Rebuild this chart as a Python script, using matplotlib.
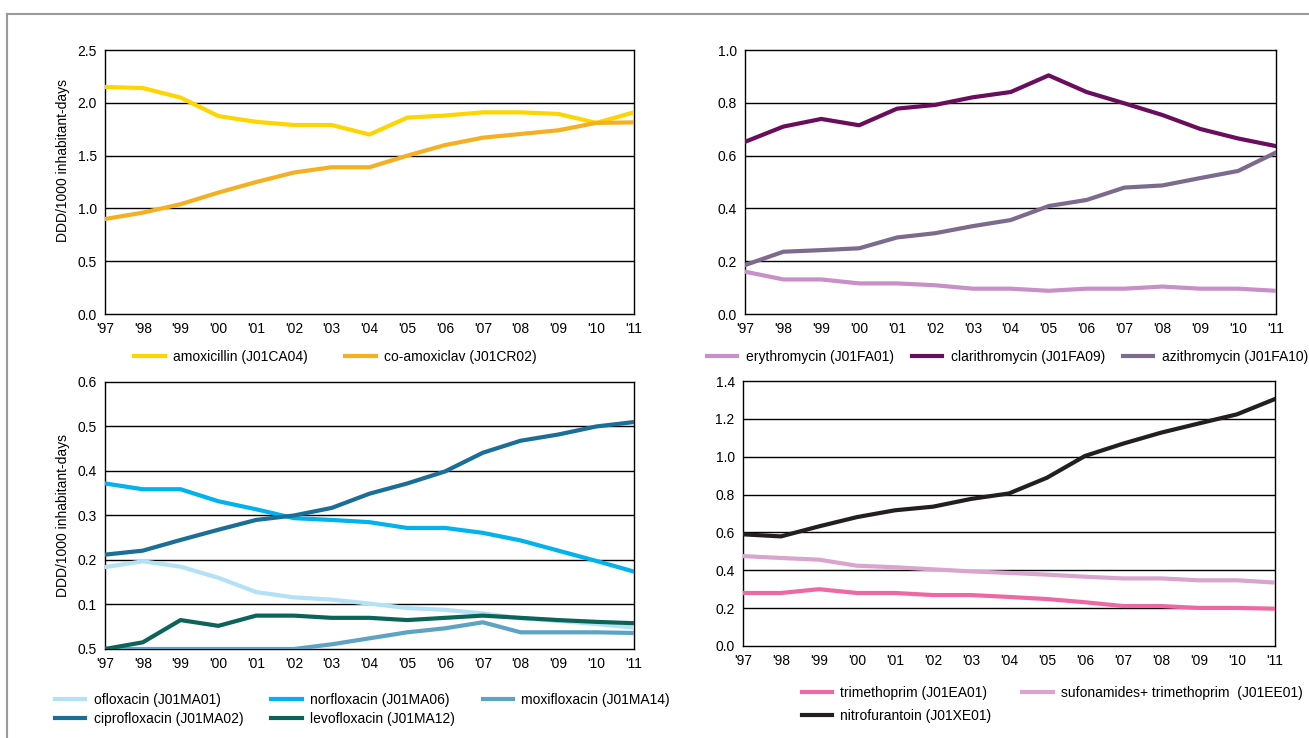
import matplotlib
matplotlib.use('Agg')
import matplotlib.pyplot as plt
from matplotlib.lines import Line2D
from matplotlib import font_manager

# Narrow sans like the original, fall back to Liberation Sans
names = {f.name for f in font_manager.fontManager.ttflist}
family = 'Liberation Sans Narrow' if 'Liberation Sans Narrow' in names else 'Liberation Sans'
plt.rcParams['font.family'] = [family, 'DejaVu Sans']
plt.rcParams['font.size'] = 10

years = ["'97", "'98", "'99", "'00", "'01", "'02", "'03", "'04", "'05", "'06",
         "'07", "'08", "'09", "'10", "'11"]

# Penicillins
amoxicillin = [2.15, 2.14, 2.05, 1.875, 1.82, 1.79, 1.79, 1.70, 1.86, 1.88, 1.91, 1.91, 1.895, 1.81, 1.91]
co_amoxiclav = [0.90, 0.96, 1.04, 1.15, 1.25, 1.34, 1.39, 1.39, 1.50, 1.60, 1.67, 1.705, 1.74, 1.81, 1.815]

# Macrolides
erythromycin = [0.16, 0.131, 0.131, 0.116, 0.116, 0.109, 0.096, 0.096, 0.088, 0.096, 0.096, 0.104, 0.096, 0.096, 0.088]
clarithromycin = [0.653, 0.71, 0.739, 0.715, 0.778, 0.792, 0.821, 0.841, 0.904, 0.841, 0.798, 0.754, 0.701, 0.665, 0.636]
azithromycin = [0.186, 0.236, 0.242, 0.249, 0.29, 0.306, 0.333, 0.356, 0.409, 0.432, 0.479, 0.487, 0.515, 0.542, 0.612]

# Quinolones
ofloxacin = [0.184, 0.197, 0.185, 0.160, 0.128, 0.116, 0.111, 0.102, 0.092, 0.088, 0.080, 0.069, 0.063, 0.056, 0.048]
norfloxacin = [0.372, 0.359, 0.359, 0.332, 0.314, 0.294, 0.290, 0.285, 0.272, 0.272, 0.261, 0.244, 0.221, 0.198, 0.174]
ciprofloxacin = [0.212, 0.221, 0.245, 0.268, 0.290, 0.300, 0.317, 0.349, 0.372, 0.399, 0.441, 0.468, 0.482, 0.500, 0.510]
moxifloxacin = [0.0, 0.0, 0.0, 0.0, 0.0, 0.0, 0.0105, 0.024, 0.0375, 0.0465, 0.060, 0.0375, 0.0375, 0.0375, 0.036]
levofloxacin = [0.0, 0.015, 0.065, 0.052, 0.075, 0.075, 0.070, 0.070, 0.065, 0.070, 0.075, 0.070, 0.065, 0.061, 0.058]

# Urinary antibacterials
trimethoprim = [0.28, 0.28, 0.30, 0.28, 0.28, 0.269, 0.269, 0.259, 0.248, 0.231, 0.211, 0.211, 0.201, 0.201, 0.197]
sulfa_trimethoprim = [0.475, 0.465, 0.456, 0.424, 0.416, 0.405, 0.394, 0.386, 0.377, 0.366, 0.357, 0.357, 0.347, 0.347, 0.335]
nitrofurantoin = [0.59, 0.579, 0.632, 0.681, 0.717, 0.736, 0.777, 0.806, 0.889, 1.004, 1.069, 1.127, 1.176, 1.224, 1.305]

ylabel = 'DDD/1000 inhabitant-days'

fig = plt.figure(figsize=(13.09, 7.38), dpi=100)

ax1 = fig.add_axes([0.0802, 0.5745, 0.4041, 0.3577])
ax2 = fig.add_axes([0.5695, 0.5745, 0.4053, 0.3577])
ax3 = fig.add_axes([0.0802, 0.1206, 0.4041, 0.3618])
ax4 = fig.add_axes([0.5676, 0.1247, 0.4064, 0.3590])

x = list(range(len(years)))
lw = 3


def style(ax, ymax, step, labels=None):
    ticks = [round(i * step, 2) for i in range(int(round(ymax / step)) + 1)]
    ax.set_xlim(0, len(years) - 1)
    ax.set_ylim(0, ymax)
    ax.set_yticks(ticks)
    if labels is None:
        labels = ['%.1f' % t for t in ticks]
    ax.set_yticklabels(labels)
    ax.set_xticks(x)
    ax.set_xticklabels(years)
    ax.tick_params(length=0, pad=6, labelsize=10)
    for t in ticks[1:-1]:
        ax.axhline(t, color='black', lw=1, zorder=1)
    for s in ax.spines.values():
        s.set_linewidth(1)
        s.set_color('black')


def legend(ax, handles, labels, ncol, y, x0, colspace, rowspace=0.37):
    ax.legend(handles, labels, ncol=ncol, loc='upper left', bbox_to_anchor=(x0, y),
              frameon=False, handlelength=2.2, handletextpad=0.6,
              columnspacing=colspace, labelspacing=rowspace, borderpad=0, borderaxespad=0,
              fontsize=10)


# top left
h1, = ax1.plot(x, amoxicillin, color='#FFD500', lw=lw, zorder=3)
h2, = ax1.plot(x, co_amoxiclav, color='#F5B021', lw=lw, zorder=3)
style(ax1, 2.5, 0.5)
ax1.set_ylabel(ylabel)
ax1.yaxis.set_label_coords(-0.066, 0.583)
legend(ax1, [h1, h2], ['amoxicillin (J01CA04)', 'co-amoxiclav (J01CR02)'], 2, -0.135, 0.055, 2.7)

# top right
h1, = ax2.plot(x, erythromycin, color='#C98FC7', lw=lw, zorder=3)
h2, = ax2.plot(x, clarithromycin, color='#6A0D5C', lw=lw, zorder=3)
h3, = ax2.plot(x, azithromycin, color='#7C6B8C', lw=lw, zorder=3)
style(ax2, 1.0, 0.2)
legend(ax2, [h1, h2, h3],
       ['erythromycin (J01FA01)', 'clarithromycin (J01FA09)', 'azithromycin (J01FA10)'],
       3, -0.135, -0.073, 1.3)

# bottom left (original axis prints 0.5 at the base)
h1, = ax3.plot(x, ofloxacin, color='#B3E1F6', lw=lw, zorder=3)
h2, = ax3.plot(x, norfloxacin, color='#00B2EE', lw=lw, zorder=3)
h3, = ax3.plot(x, moxifloxacin, color='#5DA3C4', lw=lw, zorder=3)
h4, = ax3.plot(x, ciprofloxacin, color='#1B6E95', lw=lw, zorder=3)
h5, = ax3.plot(x, levofloxacin, color='#0C6459', lw=lw, zorder=3)
style(ax3, 0.6, 0.1, ['0.5', '0.1', '0.2', '0.3', '0.4', '0.5', '0.6'])
ax3.set_ylabel(ylabel)
ax3.yaxis.set_label_coords(-0.066, 0.5)
legend(ax3, [h1, h4, h2, h5, h3],
       ['ofloxacin (J01MA01)', 'ciprofloxacin (J01MA02)', 'norfloxacin (J01MA06)',
        'levofloxacin (J01MA12)', 'moxifloxacin (J01MA14)'],
       3, -0.163, -0.095, 2.0)

# bottom right
h1, = ax4.plot(x, trimethoprim, color='#EE69A3', lw=lw, zorder=3)
h2, = ax4.plot(x, sulfa_trimethoprim, color='#D9A4CE', lw=lw, zorder=3)
h3, = ax4.plot(x, nitrofurantoin, color='#231F20', lw=lw, zorder=3)
style(ax4, 1.4, 0.2)
legend(ax4, [h1, h3, h2],
       ['trimethoprim (J01EA01)', 'nitrofurantoin (J01XE01)',
        'sufonamides+ trimethoprim  (J01EE01)'],
       2, -0.15, 0.11, 2.2, rowspace=0.65)

# grey page frame
fig.add_artist(Line2D([7 / 1309, 1], [1 - 14 / 738, 1 - 14 / 738], color='#9A9A9A', lw=1.5))
fig.add_artist(Line2D([7 / 1309, 7 / 1309], [0, 1 - 14 / 738], color='#9A9A9A', lw=1.5))

fig.savefig('out.png', dpi=100, facecolor='white')
